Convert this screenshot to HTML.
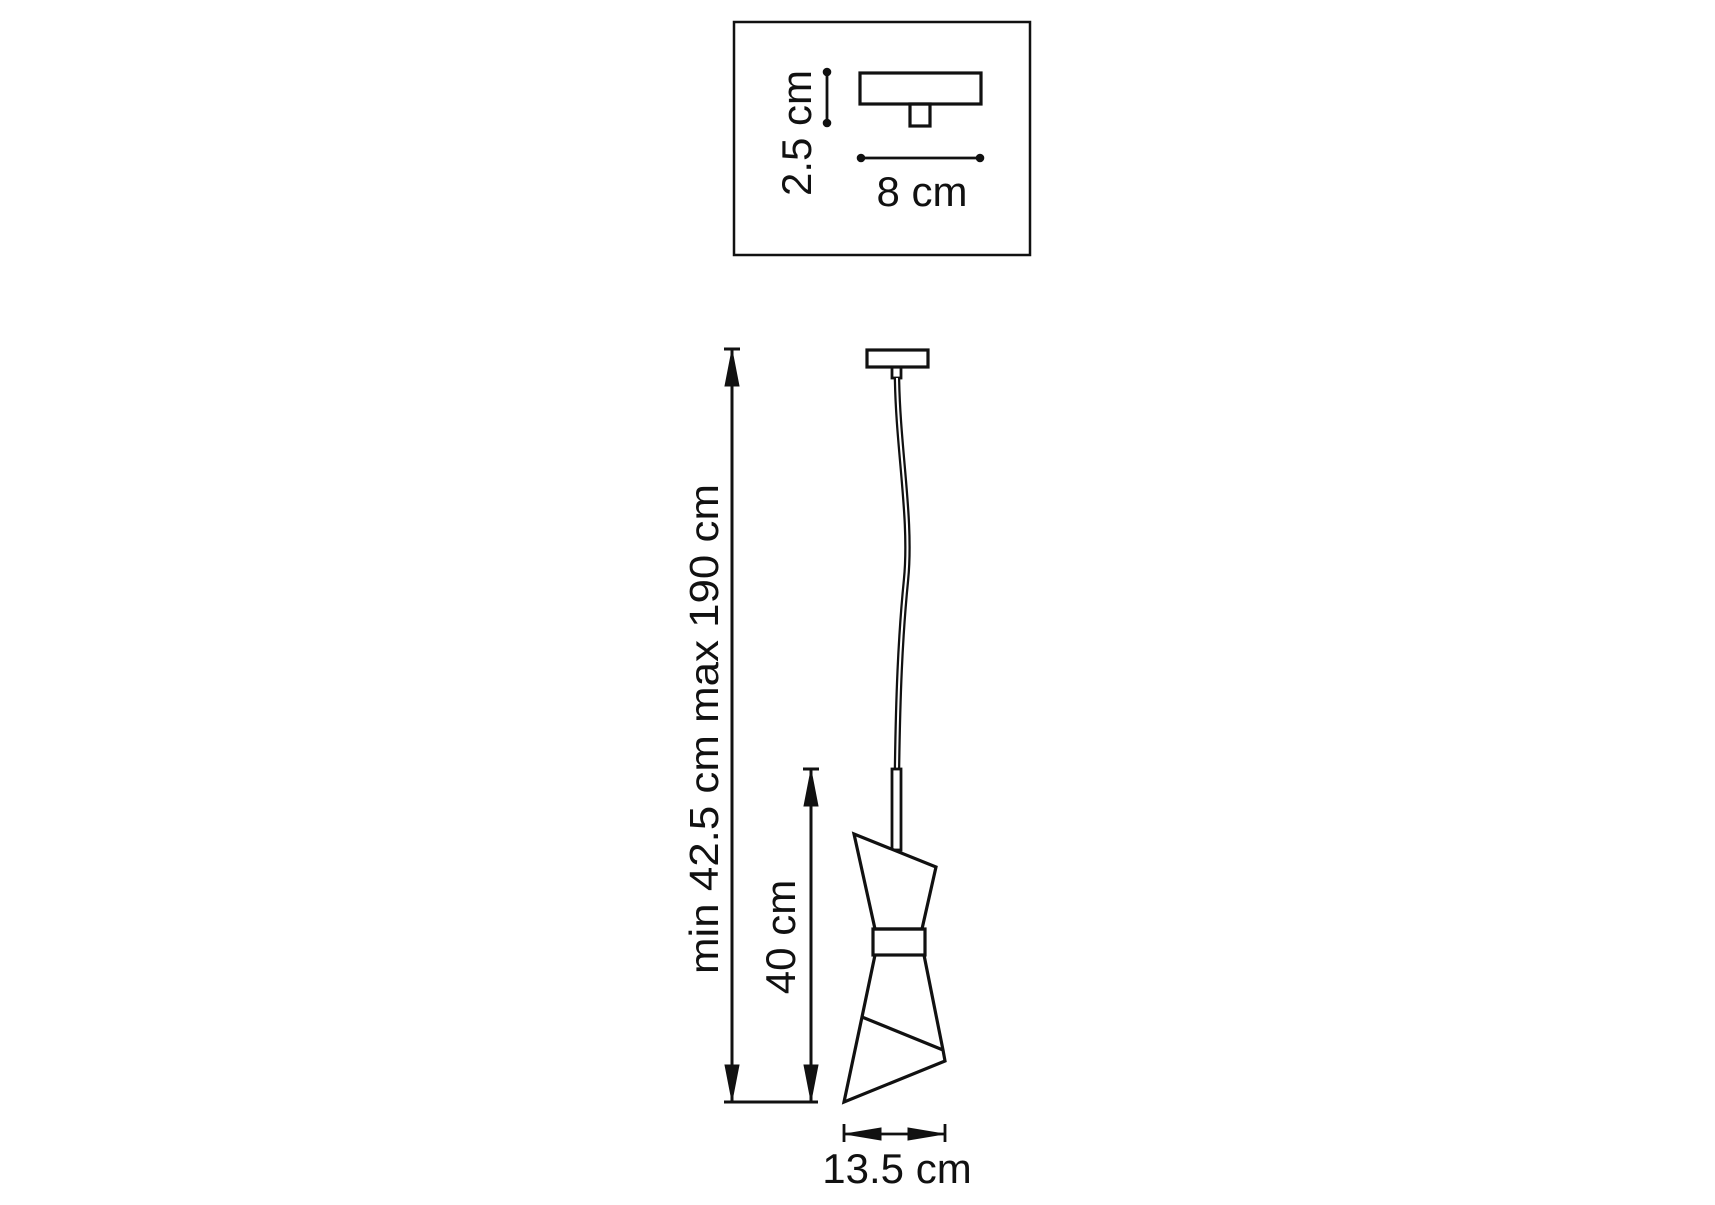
<!DOCTYPE html>
<html><head><style>html,body{margin:0;padding:0;background:#fff}</style></head><body>
<svg width="1715" height="1200" viewBox="0 0 1715 1200" xmlns="http://www.w3.org/2000/svg" font-family="'Liberation Sans', sans-serif" fill="none" stroke="#111">
<rect x="734" y="22" width="296" height="233" stroke-width="2.5"/>
<rect x="860" y="73" width="121" height="31" stroke-width="3.2"/>
<rect x="910" y="104" width="20" height="22" stroke-width="3.2"/>
<line x1="827" y1="72" x2="827" y2="123" stroke-width="2.8"/>
<circle cx="827" cy="72" r="3.8" fill="#111"/><circle cx="827" cy="123" r="3.8" fill="#111"/>
<line x1="861" y1="158" x2="980" y2="158" stroke-width="2.8"/>
<circle cx="861" cy="158" r="3.8" fill="#111"/><circle cx="980" cy="158" r="3.8" fill="#111"/>
<text x="922" y="206" font-size="42" fill="#111" stroke="none" text-anchor="middle">8 cm</text>
<text transform="translate(811,133) rotate(-90)" font-size="42" fill="#111" stroke="none" text-anchor="middle">2.5 cm</text>

<line x1="724" y1="349" x2="740" y2="349" stroke-width="3"/>
<line x1="732" y1="349" x2="732" y2="1102" stroke-width="3"/>
<polygon points="732,350 725,386 739,386" fill="#111"/>
<polygon points="732,1101 725,1065 739,1065" fill="#111"/>
<line x1="724" y1="1102" x2="818" y2="1102" stroke-width="3"/>
<text transform="translate(718,729) rotate(-90)" font-size="41" fill="#111" stroke="none" text-anchor="middle" textLength="490" lengthAdjust="spacingAndGlyphs">min 42.5 cm max 190 cm</text>
<line x1="803" y1="769" x2="819" y2="769" stroke-width="3"/>
<line x1="811" y1="769" x2="811" y2="1102" stroke-width="3"/>
<polygon points="811,770 804,806 818,806" fill="#111"/>
<polygon points="811,1101 804,1065 818,1065" fill="#111"/>
<text transform="translate(795,937) rotate(-90)" font-size="42" fill="#111" stroke="none" text-anchor="middle">40 cm</text>

<rect x="867" y="350" width="61" height="17" stroke-width="3.2"/>
<rect x="892" y="367" width="9" height="11" stroke-width="2.8"/>
<path d="M897,378 C898,450 912,520 906,580 C900,640 898,700 897,769" stroke-width="6.5"/>
<path d="M897,378 C898,450 912,520 906,580 C900,640 898,700 897,769" stroke="#fff" stroke-width="2"/>
<rect x="892" y="769" width="9" height="81" stroke-width="2.8" fill="#fff"/>
<polygon points="854,834 936,867 922,929 875,929" stroke-width="3.2" fill="#fff"/>
<rect x="873" y="929" width="52" height="26" stroke-width="3.2"/>
<path d="M875,955 L862,1017 L844,1102 L945,1061 L943,1050 L924,955" stroke-width="3.2"/>
<line x1="862" y1="1017" x2="943" y2="1050" stroke-width="3.2"/>
<line x1="844" y1="1124" x2="844" y2="1142" stroke-width="2.8"/>
<line x1="945" y1="1124" x2="945" y2="1142" stroke-width="2.8"/>
<line x1="844" y1="1134" x2="945" y2="1134" stroke-width="2.8"/>
<polygon points="845,1134 881,1128 881,1140" fill="#111"/>
<polygon points="944,1134 908,1128 908,1140" fill="#111"/>
<text x="897" y="1183" font-size="42" fill="#111" stroke="none" text-anchor="middle">13.5 cm</text>
</svg>
</body></html>
